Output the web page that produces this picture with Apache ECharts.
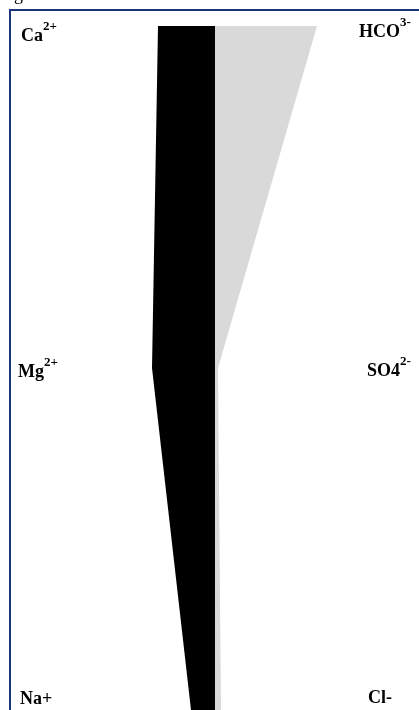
<!DOCTYPE html>
<html>
<head>
<meta charset="utf-8">
<script src="https://cdn.jsdelivr.net/npm/echarts@6/dist/echarts.min.js"></script>
<style>
  html, body { margin: 0; padding: 0; background: #fff; }
  #chart { width: 419px; height: 710px; }
</style>
</head>
<body>
<div id="chart"></div>
<script>
// Stiff diagram: cations to the left of the zero line, anions to the right (meq/L)
const rows = [0, 1, 2];
const cationNames = ['Ca', 'Mg', 'Na'];
const cationCharges = ['2+', '2+', '+'];
const cationValues = [5.7, 6.3, 2.4];
const anionNames = ['HCO', 'SO4', 'Cl'];
const anionCharges = ['3-', '2-', '-'];
const anionValues = [10.2, 0.3, 0.6];

const chart = echarts.init(document.getElementById('chart'));

// Build a closed polygon between the zero line and one side's ion values
function sidePolygon(values, sign, color) {
  return function (params, api) {
    if (params.dataIndex !== 0) return null;
    const pts = [api.coord([0, rows[0]])];
    values.forEach(function (v, i) { pts.push(api.coord([sign * v, rows[i]])); });
    pts.push(api.coord([0, rows[rows.length - 1]]));
    return {
      type: 'polygon',
      shape: { points: pts },
      style: { fill: color, stroke: null }
    };
  };
}

function labelText(name, charge) {
  // single '+' / '-' charges sit inline, others are superscripts
  return charge.length === 1 ? name + charge : name + '{sup|' + charge + '}';
}

const serif = '"Liberation Serif", "DejaVu Serif", serif';
const labelFont = {
  fontFamily: serif,
  fontWeight: 'bold',
  fontSize: 18,
  lineHeight: 32,
  fill: '#000',
  verticalAlign: 'middle',
  rich: {
    sup: { fontSize: 13, lineHeight: 14, verticalAlign: 'top', fontWeight: 'bold', fontFamily: serif }
  }
};

const cationLabelX = [21, 18, 20];
const cationLabelY = [36, 372, 699];
const anionLabelX = [359, 367, 368];
const anionLabelY = [32, 371, 698];

const graphics = [
  {
    type: 'rect', silent: true,
    shape: { x: 10, y: 10, width: 600, height: 900 },
    style: { fill: null, stroke: '#1c3578', lineWidth: 2 }
  },
  {
    type: 'text', x: 14, y: -5,
    style: { text: 'g', fontFamily: serif, fontSize: 18, fill: '#000', verticalAlign: 'middle' }
  }
];
cationNames.forEach(function (n, i) {
  graphics.push({ type: 'text', x: cationLabelX[i], y: cationLabelY[i],
    style: Object.assign({}, labelFont, { text: labelText(n, cationCharges[i]) }) });
});
anionNames.forEach(function (n, i) {
  graphics.push({ type: 'text', x: anionLabelX[i], y: anionLabelY[i],
    style: Object.assign({}, labelFont, { text: labelText(n, anionCharges[i]) }) });
});

chart.setOption({
  animation: false,
  backgroundColor: '#fff',
  grid: { left: 0, right: 0, top: 26, bottom: 0 },
  xAxis: { type: 'value', min: -21.5, max: 20.4, show: false, splitLine: { show: false } },
  yAxis: { type: 'value', min: 0, max: 2, inverse: true, show: false, splitLine: { show: false } },
  series: [
    {
      type: 'custom', name: 'Cations',
      renderItem: sidePolygon(cationValues, -1, '#000000'),
      data: rows.map(function (r, i) { return [-cationValues[i], r]; })
    },
    {
      type: 'custom', name: 'Anions',
      renderItem: sidePolygon(anionValues, 1, '#d9d9d9'),
      data: rows.map(function (r, i) { return [anionValues[i], r]; })
    }
  ],
  graphic: graphics
});
</script>
</body>
</html>
